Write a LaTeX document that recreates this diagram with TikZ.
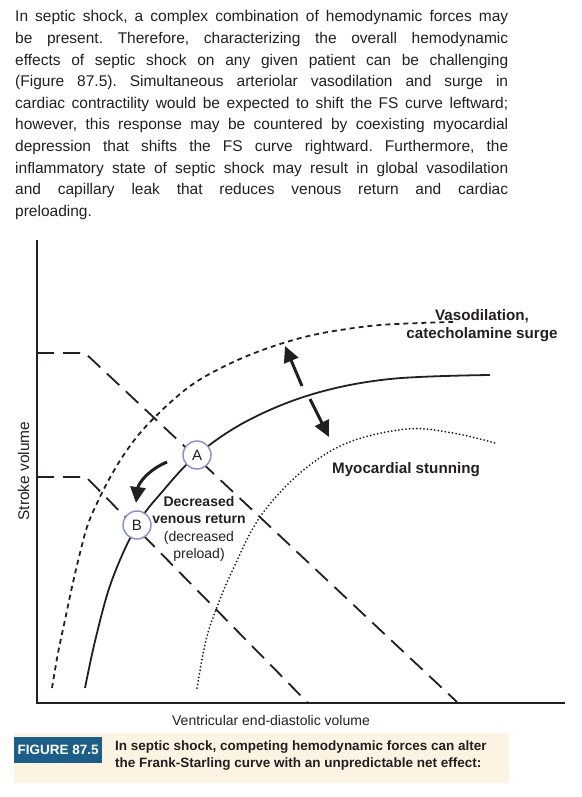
\documentclass[tikz,border=0pt]{standalone}
\usepackage{fontspec}
\setmainfont{Liberation Sans}
\usetikzlibrary{arrows.meta}
\definecolor{ink}{HTML}{231F20}
\definecolor{ptblue}{HTML}{8C95C6}
\definecolor{capband}{HTML}{FDF3E2}
\definecolor{figblue}{HTML}{1D5E89}
\frenchspacing

\begin{document}
\begin{tikzpicture}[x=1pt,y=-1pt,>=Stealth,
  axisline/.style={line width=2pt,ink},
  fscurve/.style={line width=1.8pt,ink},
  vasocurve/.style={line width=1.8pt,ink,dash pattern=on 5pt off 4pt},
  stuncurve/.style={line width=2pt,ink,dash pattern=on 0pt off 3.6pt,line cap=round},
  guide/.style={line width=1.8pt,ink,dash pattern=on 17pt off 9pt},
  movearrow/.style={line width=3pt,ink,-{Triangle[length=16pt,width=15pt]}},
  ptnode/.style={circle,draw=ptblue,line width=1.5pt,fill=white,minimum size=28pt,inner sep=0pt,text=ink,font=\fontsize{15}{15}\selectfont},
  lbl/.style={font=\fontsize{15.2}{18}\selectfont\bfseries,align=center,text=ink}]
\useasboundingbox (0,0) rectangle (581,797);

\node[anchor=north west,inner sep=0pt,text width=493pt,align=justify,text=ink,
  font=\fontsize{15.5}{21.6}\selectfont] (intro) at (15,10.4)
  {In septic shock, a complex combination of hemodynamic forces may\linebreak
   be present. Therefore, characterizing the overall hemodynamic\linebreak
   effects of septic shock on any given patient can be challenging\linebreak
   (Figure 87.5). Simultaneous arteriolar vasodilation and surge in\linebreak
   cardiac contractility would be expected to shift the FS curve leftward;\linebreak
   however, this response may be countered by coexisting myocardial\linebreak
   depression that shifts the FS curve rightward. Furthermore, the\linebreak
   inflammatory state of septic shock may result in global vasodilation\linebreak
   and capillary leak that reduces venous return and cardiac\linebreak
   preloading.};

\coordinate (O) at (37,703);
\coordinate (ytop) at (37,240);
\coordinate (xend) at (565,703);
\coordinate (pA) at (197,455);
\coordinate (pB) at (137,525);
\coordinate (sv1) at (37,353);
\coordinate (sv2) at (37,477);
\coordinate (edv1) at (457,702);
\coordinate (edv2) at (307,702);

\draw[axisline] (ytop) -- (O) -- (xend);
\draw[guide] (sv1) -- (85,353) -- (edv1);
\draw[guide] (sv2) -- (86,477) -- (edv2);

\draw[vasocurve] plot[smooth,tension=0.6] coordinates {(52,688) (58,653) (65,620) (72,587) (80,553) (88,524) (100,497) (112,474) (125,453) (140,433) (155,417) (173,400) (193,384) (217,370) (247,356) (280,344) (313,335) (347,329) (380,325) (420,323) (453,322)};
\draw[fscurve] plot[smooth,tension=0.6] coordinates {(85,688) (96,637) (112,580) (pB) (162,492) (pA) (247,421) (313,394) (390,379) (490,375)};
\draw[stuncurve] plot[smooth,tension=0.6] coordinates {(197,688) (206,640) (217,607) (234,567) (260,517) (300,473) (347,443) (407,429) (453,433) (495,443)};

\coordinate (upS) at (302,386);
\coordinate (upE) at (285,346);
\coordinate (dnS) at (310,399);
\coordinate (dnE) at (329,437);
\coordinate (cvS) at (167,462);
\coordinate (cvE) at (136,503);
\draw[movearrow] (upS) -- (upE);
\draw[movearrow] (dnS) -- (dnE);
\draw[movearrow] (cvS) to[bend right=30] (cvE);

\node[ptnode] (A) at (pA) {A};
\node[ptnode] (B) at (pB) {B};

\node[lbl] (vaso) at (482,326) {Vasodilation,\\catecholamine surge};
\node[lbl] (stun) at (406,470) {Myocardial stunning};
\node[lbl,font=\fontsize{14}{17.3}\selectfont\bfseries] (dvr) at (199,529) {Decreased\\venous return\\{\mdseries (decreased}\\{\mdseries preload)}};

\node[rotate=90,text=ink,font=\fontsize{15.5}{15.5}\selectfont] (ylab) at (23.5,471) {Stroke volume};
\node[text=ink,font=\fontsize{14}{14}\selectfont] (xlab) at (271,720) {Ventricular end-diastolic volume};

\node[anchor=north west,fill=capband,minimum width=495pt,minimum height=50pt,inner sep=0pt] (band) at (14,733) {};
\node[anchor=north west,fill=figblue,text=white,minimum width=88pt,minimum height=26pt,inner sep=0pt,
  font=\fontsize{13.5}{13.5}\selectfont\bfseries] (tag) at (14,737) {FIGURE 87.5};
\node[anchor=north west,inner sep=0pt,align=left,text=ink,font=\fontsize{13.5}{17}\selectfont\bfseries] (cap) at (115,741)
  {In septic shock, competing hemodynamic forces can alter\\the Frank-Starling curve with an unpredictable net effect:};
\end{tikzpicture}
\end{document}
